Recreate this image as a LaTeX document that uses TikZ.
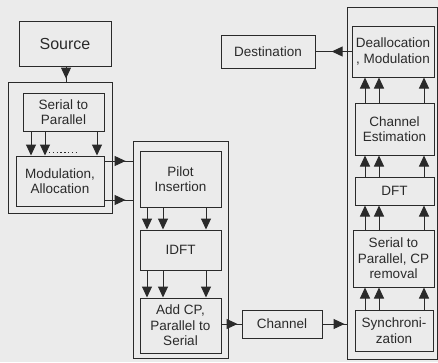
\documentclass[tikz,border=0pt]{standalone}
\usepackage{fontspec}
\setmainfont{Liberation Sans}
\usetikzlibrary{arrows.meta,decorations.markings}
\definecolor{bg}{HTML}{EBEBEB}
\definecolor{ink}{HTML}{2A2A2A}
\begin{document}
\begin{tikzpicture}[x=1pt,y=-1pt,
  every node/.style={font=\fontsize{13.5}{15.5}\selectfont, text=ink},
  box/.style={draw=ink, line width=1pt, inner sep=0pt, align=center},
  frame/.style={draw=ink, line width=1pt},
  tip/.style={-{Triangle[length=11pt,width=10pt]}, draw=ink, line width=1pt},
  midarrow/.style={draw=ink, line width=1pt, postaction={decorate},
    decoration={markings, mark=at position #1 with {\arrow{Triangle[length=11pt,width=10pt]}}}}
]
\fill[bg] (0,0) rectangle (438,362);
\useasboundingbox (0,0) rectangle (438,362);
% containers
\draw[frame] (8,82) rectangle (112,213);
\draw[frame] (133,141) rectangle (228,358);
\draw[frame] (347,7) rectangle (437,359);
% nodes
\node[box, minimum width=92pt, minimum height=45pt, font=\fontsize{16}{18}\selectfont] (src) at (65,43.5) {Source};
\node[box, minimum width=81pt, minimum height=38pt] (s2p) at (63.5,112) {Serial to\\Parallel};
\node[box, minimum width=88pt, minimum height=50pt] (mod) at (60,181) {Modulation,\\Allocation};
\node[box, minimum width=81pt, minimum height=56pt] (pilot) at (180.5,179) {Pilot\\Insertion};
\node[box, minimum width=81pt, minimum height=40pt] (idft) at (180.5,250) {IDFT};
\node[box, minimum width=81pt, minimum height=55pt] (addcp) at (180.5,325.5) {Add CP,\\Parallel to\\Serial};
\node[box, minimum width=80pt, minimum height=28pt] (chan) at (282,324) {Channel};
\node[box, minimum width=94pt, minimum height=33pt] (dest) at (268,51.5) {Destination};
\node[box, minimum width=82pt, minimum height=51pt] (deal) at (393,51.5) {Deallocation\\, Modulation};
\node[box, minimum width=79pt, minimum height=52pt] (ce) at (394.5,129) {Channel\\Estimation};
\node[box, minimum width=79pt, minimum height=28pt] (dft) at (394.5,191) {DFT};
\node[box, minimum width=81pt, minimum height=57pt] (s2pcp) at (393.5,258.5) {Serial to\\Parallel, CP\\removal};
\node[box, minimum width=78pt, minimum height=41pt] (sync) at (394,330.5) {Synchroni-\\zation};
\coordinate (lcTop) at (66,82);
\coordinate (mcLeft) at (133,0);
\coordinate (rcLeft) at (347,0);
% single arrows with mid tips
\draw[midarrow=0.78] (src.south -| lcTop) -- (lcTop);
\draw[midarrow=0.74] (mod.east |- 0,161) -- (mcLeft |- 0,161);
\draw[midarrow=0.74] (mod.east |- 0,200) -- (mcLeft |- 0,200);
\draw[midarrow=0.8] (addcp.east |- chan.west) -- (chan.west);
\draw[midarrow=0.9] (chan.east) -- (rcLeft |- chan.east);
\draw[midarrow=0.55] (deal.west) -- (dest.east);
% parallel arrows
\foreach \x in {31,45,97}{
  \draw[tip] (s2p.south -| \x,0) -- (mod.north -| \x,0);
}
\draw[ink, line width=1pt, dash pattern=on 1.3pt off 2.5pt] (49,152) -- (76,152);
\foreach \x in {147,163,206}{
  \draw[tip] (pilot.south -| \x,0) -- (idft.north -| \x,0);
  \draw[tip] (idft.south -| \x,0) -- (addcp.north -| \x,0);
}
\foreach \x in {365,379,424}{
  \draw[tip] (sync.north -| \x,0) -- (s2pcp.south -| \x,0);
  \draw[tip] (s2pcp.north -| \x,0) -- (dft.south -| \x,0);
  \draw[tip] (dft.north -| \x,0) -- (ce.south -| \x,0);
  \draw[tip] (ce.north -| \x,0) -- (deal.south -| \x,0);
}
\end{tikzpicture}
\end{document}
